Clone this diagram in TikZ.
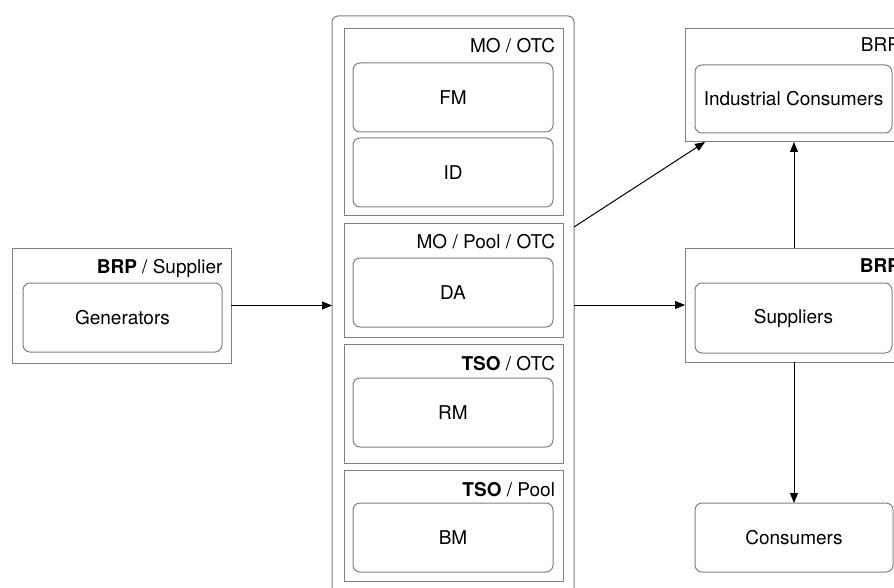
\documentclass[tikz,border=0pt]{standalone}
\usepackage{fontspec}
\setmainfont{TeX Gyre Heros}
\usetikzlibrary{arrows.meta}
\definecolor{boxgray}{RGB}{128,128,128}
\begin{document}
\begin{tikzpicture}[x=1pt,y=-1pt,
  every node/.style={font=\fontsize{19}{22}\selectfont, inner sep=0pt, outer sep=0pt},
  outerbox/.style={draw=boxgray, line width=1pt},
  bigbox/.style={draw=boxgray, line width=1pt, rounded corners=6pt},
  innerbox/.style={draw=boxgray, line width=1pt, rounded corners=7pt},
  lbl/.style={anchor=base east},
  arr/.style={draw=black, line width=1pt, -{Triangle[length=10pt,width=8pt]}}]
\useasboundingbox (0,0) rectangle (894,588);
\clip (0,0) rectangle (894,588);

% left group
\node[outerbox, minimum width=219pt, minimum height=115pt] (gen) at (121.5,305.5) {};
\node[innerbox, minimum width=199pt, minimum height=69pt] (genin) at (122.5,317.5) {Generators};
\node[lbl] (genlbl) at (222.5,273) {\textbf{BRP} / Supplier};

% market column
\node[bigbox, minimum width=242pt, minimum height=590pt] (market) at (453,311) {};
\node[outerbox, minimum width=219pt, minimum height=187pt] (sec1) at (453.5,122.5) {};
\node[innerbox, minimum width=200pt, minimum height=69pt] (fm) at (453,97.5) {FM};
\node[innerbox, minimum width=200pt, minimum height=69pt] (id) at (453,172.5) {ID};
\node[lbl] (l1) at (555,53) {MO / OTC};

\node[outerbox, minimum width=219pt, minimum height=113pt] (sec2) at (453.5,280.5) {};
\node[innerbox, minimum width=200pt, minimum height=69pt] (da) at (453,292.5) {DA};
\node[lbl] (l2) at (555,248) {MO / Pool / OTC};

\node[outerbox, minimum width=219pt, minimum height=119pt] (sec3) at (453.5,403.5) {};
\node[innerbox, minimum width=200pt, minimum height=69pt] (rm) at (453,412.5) {RM};
\node[lbl] (l3) at (555,370) {\textbf{TSO} / OTC};

\node[outerbox, minimum width=219pt, minimum height=111pt] (sec4) at (453.5,525.5) {};
\node[innerbox, minimum width=200pt, minimum height=69pt] (bm) at (453,537.5) {BM};
\node[lbl] (l4) at (555,496) {\textbf{TSO} / Pool};

% right group
\node[outerbox, minimum width=223pt, minimum height=113pt] (ind) at (796.5,85.5) {};
\node[innerbox, minimum width=197pt, minimum height=68pt] (indin) at (793.5,99) {Industrial Consumers};
\node[lbl] (indlbl) at (900,52) {BRP};

\node[outerbox, minimum width=223pt, minimum height=114pt] (sup) at (796.5,305) {};
\node[innerbox, minimum width=197pt, minimum height=70pt] (supin) at (793.5,318) {Suppliers};
\node[lbl] (suplbl) at (900,272.5) {\textbf{BRP}};

\node[innerbox, minimum width=198pt, minimum height=69pt] (cons) at (794,537.5) {Consumers};

% connectors
\draw[arr] (gen.east) -- (gen.east -| market.west);
\coordinate (mstart) at (market.east |- {(0,227)});
\coordinate (indend) at ([xshift=20pt]ind.south west);
\draw[arr] (mstart) -- (indend);
\draw[arr] (sup.west -| market.east) -- (sup.west);
\draw[arr] (sup.north -| cons.north) -- (ind.south -| cons.north);
\draw[arr] (sup.south -| cons.north) -- (cons.north);
\end{tikzpicture}
\end{document}
